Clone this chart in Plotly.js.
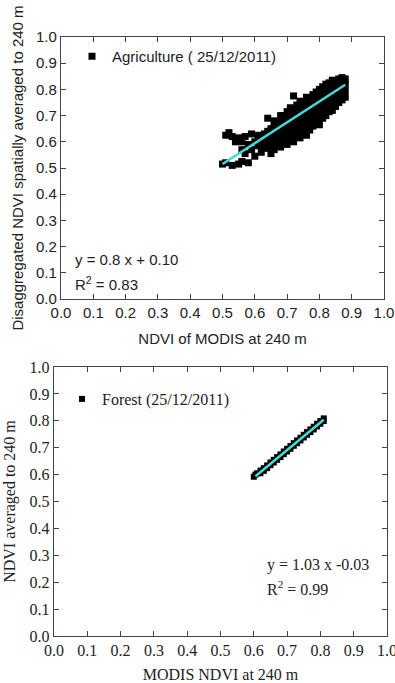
<!DOCTYPE html>
<html><head><meta charset="utf-8">
<script src="https://cdn.plot.ly/plotly-3.0.1.min.js"></script>
<style>html,body{margin:0;padding:0;background:#fff}#chart{width:395px;height:683px}</style>
</head><body><div id="chart"></div>
<script>
// Agriculture scatter (MODIS NDVI vs disaggregated NDVI)
const agriX = [
 0.50,0.51,0.53,0.55,0.56,0.58,0.52,0.51,0.53,0.54,0.55,0.56,0.57,0.56,0.57,0.58,0.59,0.59,0.60,0.60,0.61,0.61,0.62,0.62,0.63,0.63,0.64,0.64,0.65,0.72,
 0.64,0.64,0.64,
 0.65,0.65,0.65,
 0.66,0.66,0.66,0.66,0.66,
 0.67,0.67,0.67,0.67,
 0.68,0.68,0.68,0.68,0.68,0.68,
 0.69,0.69,0.69,0.69,0.69,
 0.70,0.70,0.70,0.70,0.70,0.70,
 0.71,0.71,0.71,0.71,0.71,0.71,
 0.72,0.72,0.72,0.72,0.72,0.72,
 0.73,0.73,0.73,0.73,0.73,0.73,
 0.74,0.74,0.74,0.74,0.74,0.74,0.74,
 0.75,0.75,0.75,0.75,0.75,0.75,
 0.76,0.76,0.76,0.76,0.76,0.76,0.76,
 0.77,0.77,0.77,0.77,0.77,0.77,
 0.78,0.78,0.78,0.78,0.78,0.78,
 0.79,0.79,0.79,0.79,0.79,0.79,
 0.80,0.80,0.80,0.80,0.80,0.80,0.80,
 0.81,0.81,0.81,0.81,0.81,0.81,
 0.82,0.82,0.82,0.82,0.82,0.82,
 0.83,0.83,0.83,0.83,0.83,0.83,
 0.84,0.84,0.84,0.84,0.84,0.84,
 0.85,0.85,0.85,0.85,0.85,
 0.86,0.86,0.86,0.86,0.86,
 0.87,0.87,0.87,0.87,0.87,
 0.88,0.88,0.88,0.88
];
const agriY = [
 0.515,0.52,0.51,0.515,0.525,0.52,0.635,0.625,0.62,0.60,0.615,0.60,0.62,0.57,0.555,0.59,0.63,0.57,0.545,0.60,0.585,0.625,0.56,0.60,0.575,0.63,0.615,0.69,0.555,0.775,
 0.58,0.60,0.64,
 0.59,0.62,0.65,
 0.57,0.60,0.63,0.66,0.68,
 0.59,0.62,0.645,0.67,
 0.58,0.605,0.63,0.655,0.68,0.70,
 0.60,0.625,0.65,0.675,0.70,
 0.59,0.615,0.64,0.665,0.69,0.715,
 0.61,0.635,0.66,0.685,0.71,0.73,
 0.60,0.625,0.65,0.675,0.70,0.72,
 0.62,0.645,0.67,0.695,0.72,0.74,
 0.615,0.64,0.665,0.69,0.715,0.74,0.755,
 0.63,0.655,0.68,0.705,0.73,0.75,
 0.625,0.65,0.675,0.70,0.725,0.75,0.77,
 0.645,0.67,0.695,0.72,0.745,0.765,
 0.66,0.685,0.71,0.735,0.76,0.78,
 0.67,0.695,0.72,0.745,0.77,0.79,
 0.665,0.69,0.715,0.74,0.765,0.79,0.80,
 0.69,0.715,0.74,0.765,0.79,0.81,
 0.70,0.725,0.75,0.775,0.80,0.82,
 0.715,0.74,0.765,0.79,0.815,0.825,
 0.72,0.745,0.77,0.795,0.82,0.835,
 0.735,0.76,0.785,0.81,0.83,
 0.75,0.775,0.80,0.82,0.84,
 0.76,0.785,0.81,0.83,0.845,
 0.77,0.795,0.82,0.84
];
const agriFitX = [0.50, 0.88];
const agriFitY = [0.515, 0.818];

// Forest scatter
const forestX = [0.60,0.605,0.61,0.62,0.62,0.63,0.63,0.64,0.64,0.65,0.65,0.66,0.66,0.67,0.67,0.68,0.68,0.69,0.69,0.70,0.70,0.71,0.71,0.72,0.72,0.73,0.73,0.74,0.74,0.75,0.75,0.76,0.76,0.77,0.77,0.78,0.78,0.79,0.79,0.80,0.80,0.81,0.81];
const forestY = [0.592,0.60,0.605,0.605,0.615,0.614,0.624,0.624,0.634,0.635,0.645,0.645,0.655,0.655,0.665,0.665,0.675,0.676,0.686,0.686,0.696,0.696,0.706,0.707,0.717,0.717,0.727,0.727,0.737,0.738,0.748,0.748,0.758,0.758,0.768,0.768,0.778,0.779,0.789,0.789,0.799,0.799,0.809];
const forestFitX = [0.605, 0.81];
const forestFitY = [0.594, 0.804];

const tickVals = [0,0.1,0.2,0.3,0.4,0.5,0.6,0.7,0.8,0.9,1.0];
const tickText = ["0.0","0.1","0.2","0.3","0.4","0.5","0.6","0.7","0.8","0.9","1.0"];

const SANS = "Liberation Sans, Arial, sans-serif";
const SERIF = "Liberation Serif, Times New Roman, serif";
const FIT = "#40dcd6";

const traces = [
 {x: agriX, y: agriY, type:'scatter', mode:'markers', name:'Agriculture ( 25/12/2011)',
  marker:{symbol:'square', size:7, color:'#000'}, xaxis:'x', yaxis:'y', legend:'legend'},
 {x: agriFitX, y: agriFitY, type:'scatter', mode:'lines', showlegend:false,
  line:{color:FIT, width:2.5}, xaxis:'x', yaxis:'y'},
 {x: forestX, y: forestY, type:'scatter', mode:'markers', name:'Forest (25/12/2011)',
  marker:{symbol:'square', size:6, color:'#000'}, xaxis:'x2', yaxis:'y2', legend:'legend2'},
 {x: forestFitX, y: forestFitY, type:'scatter', mode:'lines', showlegend:false,
  line:{color:FIT, width:2.5}, xaxis:'x2', yaxis:'y2'}
];

function ax(font, size, domain, anchor, title, standoff){
 return {domain: domain, anchor: anchor, range:[0,1], tickvals: tickVals, ticktext: tickText,
  ticks:'inside', ticklen:5, tickwidth:1, tickcolor:'#444', mirror:'ticks', showline:true,
  linecolor:'#444', linewidth:1.2, showgrid:false, zeroline:false, automargin:false,
  ticklabeloverflow:'allow',
  tickfont:{family:font, size:size, color:'#222'},
  title:{text:title, font:{family:font, size:size, color:'#222'}, standoff:standoff}};
}

const layout = {
 width:395, height:683, margin:{l:0,r:0,t:0,b:0}, paper_bgcolor:'#fff', plot_bgcolor:'#fff',
 xaxis: ax(SANS, 15, [61/395, 384/395], 'y', 'NDVI of MODIS at 240 m', 13),
 yaxis: ax(SANS, 15, [1-299/683, 1-37/683], 'x', 'Disaggregated NDVI spatially averaged to 240 m', 8),
 xaxis2: ax(SERIF, 16, [54/395, 387/395], 'y2', 'MODIS NDVI at 240 m', 11),
 yaxis2: ax(SERIF, 16, [1-636/683, 1-367/683], 'x2', 'NDVI averaged to 240 m', 10),
 legend:{x:72/395, y:1-40/683, xanchor:'left', yanchor:'top', bgcolor:'rgba(0,0,0,0)',
  font:{family:SANS, size:15, color:'#222'}},
 legend2:{x:62/395, y:1-382/683, xanchor:'left', yanchor:'top', bgcolor:'rgba(0,0,0,0)',
  font:{family:SERIF, size:16, color:'#222'}},
 annotations:[
  {xref:'x', yref:'y', x:0.037, y:0.149, xanchor:'left', yanchor:'middle', showarrow:false,
   text:'y = 0.8 x + 0.10', font:{family:SANS, size:15, color:'#222'}},
  {xref:'x', yref:'y', x:0.037, y:0.061, xanchor:'left', yanchor:'middle', showarrow:false,
   text:'R<sup>2</sup> = 0.83', font:{family:SANS, size:15, color:'#222'}},
  {xref:'x2', yref:'y2', x:0.633, y:0.264, xanchor:'left', yanchor:'middle', showarrow:false,
   text:'y = 1.03 x -0.03', font:{family:SERIF, size:16, color:'#222'}},
  {xref:'x2', yref:'y2', x:0.633, y:0.178, xanchor:'left', yanchor:'middle', showarrow:false,
   text:'R<sup>2</sup> = 0.99', font:{family:SERIF, size:16, color:'#222'}}
 ]
};

Plotly.newPlot('chart', traces, layout, {displayModeBar:false, staticPlot:true});
</script>
</body></html>
